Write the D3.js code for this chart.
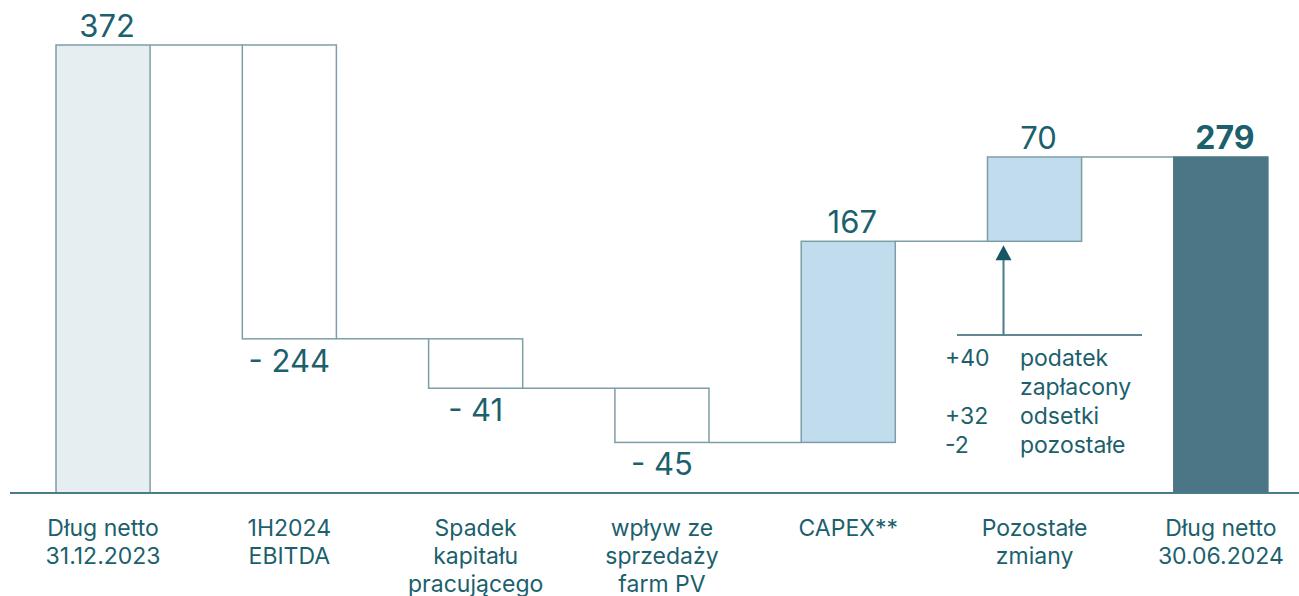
<!DOCTYPE html>
<html>
<head>
<meta charset="utf-8">
<script src="https://cdn.jsdelivr.net/npm/d3@7"></script>
<style>
  html, body { margin: 0; padding: 0; background: #fff; }
  svg { display: block; font-family: Inter, "Noto Sans", sans-serif; }
</style>
</head>
<body>
<div id="chart"></div>
<script>
// waterfall: net debt bridge
const categories = [
  ['Dług netto', '31.12.2023'],
  ['1H2024', 'EBITDA'],
  ['Spadek', 'kapitału', 'pracującego'],
  ['wpływ ze', 'sprzedaży', 'farm PV'],
  ['CAPEX**'],
  ['Pozostałe', 'zmiany'],
  ['Dług netto', '30.06.2024']
];
const values = [372, -244, -41, -45, 167, 70, 279];
const kinds = ['total', 'delta', 'delta', 'delta', 'delta', 'delta', 'total'];
const valueLabels = ['372', '- 244', '- 41', '- 45', '167', '70', '279'];

const noteNumbers = ['+40', '', '+32', '-2'];
const noteTexts = ['podatek', 'zapłacony', 'odsetki', 'pozostałe'];

const W = 1299, H = 596;
const baseY = 493;
const teal = '#1c5f6d';
const edge = '#7d9ea9';

const svg = d3.select('#chart').append('svg')
  .attr('width', W).attr('height', H);

// running levels
let level = 0;
const bars = values.map((v, i) => {
  let y0, y1;
  if (kinds[i] === 'total') { y0 = 0; y1 = v; level = v; }
  else { y0 = level; y1 = level + v; level = y1; }
  return { i, v, lo: Math.min(y0, y1), hi: Math.max(y0, y1), end: y1 };
});

const x = d3.scaleBand()
  .domain(d3.range(values.length))
  .range([9.9, 1314])
  .paddingInner(0.495)
  .paddingOuter(0.2475);

const y = d3.scaleLinear().domain([0, 372]).range([baseY, 45]);

function fillFor(d) {
  if (d.i === 0) return '#e6eef1';
  if (d.i === values.length - 1) return '#4b7685';
  if (d.v > 0) return '#c0dced';
  return '#ffffff';
}

// connectors
const conn = bars.slice(0, -1).map((d, k) => ({ x1: x(k) + x.bandwidth(), x2: x(k + 1), yv: d.end }));
svg.append('g').selectAll('line').data(conn).enter().append('line')
  .attr('x1', d => d.x1).attr('x2', d => d.x2)
  .attr('y1', d => y(d.yv)).attr('y2', d => y(d.yv))
  .attr('stroke', edge).attr('stroke-width', 1.5);

svg.append('g').selectAll('rect').data(bars).enter().append('rect')
  .attr('x', d => x(d.i))
  .attr('y', d => y(d.hi))
  .attr('width', x.bandwidth())
  .attr('height', d => y(d.lo) - y(d.hi))
  .attr('fill', fillFor)
  .attr('stroke', d => d.i === values.length - 1 ? '#4b7685' : edge)
  .attr('stroke-width', 1.5);

// axis line
svg.append('line')
  .attr('x1', 10).attr('x2', W).attr('y1', baseY).attr('y2', baseY)
  .attr('stroke', '#4a7b88').attr('stroke-width', 2);

// value labels
svg.append('g').selectAll('text').data(bars).enter().append('text')
  .attr('x', d => x(d.i) + x.bandwidth() / 2 + (d.v < 0 ? 0 : 4))
  .attr('y', d => d.v < 0 ? y(d.lo) + 33 : y(d.hi) - 8)
  .attr('text-anchor', 'middle')
  .attr('fill', teal)
  .attr('font-size', d => d.i === values.length - 1 ? 32 : 31)
  .attr('font-weight', d => d.i === values.length - 1 ? 700 : 400)
  .text(d => valueLabels[d.i]);

// category labels
const cat = svg.append('g').selectAll('text').data(categories).enter().append('text')
  .attr('text-anchor', 'middle')
  .attr('fill', teal)
  .attr('font-size', 23)
  .attr('transform', (d, i) => `translate(${x(i) + x.bandwidth() / 2},536)`);
cat.selectAll('tspan').data(d => d).enter().append('tspan')
  .attr('x', 0).attr('y', (d, j) => j * 28)
  .text(d => d);

// annotation for "Pozostałe zmiany"
const ax = x(5) + 16;
const ay = 335;
svg.append('line').attr('x1', 957).attr('x2', 1142).attr('y1', ay).attr('y2', ay)
  .attr('stroke', '#2c5f6c').attr('stroke-width', 1.5);
svg.append('line').attr('x1', ax).attr('x2', ax).attr('y1', ay).attr('y2', y(bars[4].end) + 14)
  .attr('stroke', '#4a7b88').attr('stroke-width', 2);
svg.append('path')
  .attr('d', `M${ax - 8},${y(bars[4].end) + 19} L${ax},${y(bars[4].end) + 4} L${ax + 8},${y(bars[4].end) + 19} Z`)
  .attr('fill', '#165663');

const notes = svg.append('g').attr('fill', teal).attr('font-size', 23);
notes.selectAll('text.n').data(noteNumbers).enter().append('text')
  .attr('class', 'n').attr('x', 945).attr('y', (d, i) => 366 + i * 29).text(d => d);
notes.selectAll('text.t').data(noteTexts).enter().append('text')
  .attr('class', 't').attr('x', 1020).attr('y', (d, i) => 366 + i * 29).text(d => d);
</script>
</body>
</html>
